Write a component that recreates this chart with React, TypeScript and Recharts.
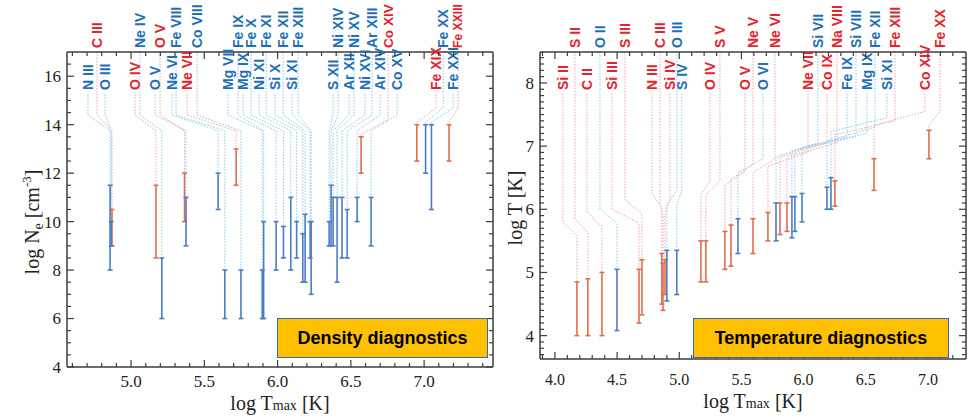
import type { ReactElement } from 'react';
import { ComposedChart, ErrorBar, Label, Line, Scatter, XAxis, YAxis } from 'recharts';

const SERIF = '"Liberation Serif", "Times New Roman", serif';
const SANS = '"Liberation Sans", Arial, sans-serif';
const FRAME = '#3d3d3d';
const ION_RED = '#e5232c';
const ION_BLUE = '#1f6fb6';
const BAR_RED = '#e26b4d';
const BAR_BLUE = '#4a7cc2';
const LEAD_RED = '#f3a1af';
const LEAD_BLUE = '#8cc8ee';

// ---- density diagnostics (left panel) ----
const DENS_ION = [
  'N III', 'C III', 'O III', 'O IV', 'Ne IV', 'O V', 'O V', 'Ne VI', 'Fe VIII', 'Ne VII',
  'Co VIII', 'Mg VII', 'Fe IX', 'Mg IX', 'Fe X', 'Ni XI', 'Fe XI', 'Si X', 'Fe XII', 'Si XI',
  'Fe XIII', 'S XII', 'Ni XIV', 'Ar XII', 'Ni XV', 'Ni XVI', 'Ar XIII', 'Ar XIV', 'Co XIV', 'Co XV',
  'Fe XIX', 'Fe XX', 'Fe XXI', 'Fe XXIII',
];
const DENS_RED = [0, 1, 0, 1, 0, 0, 1, 0, 0, 1, 0, 0, 0, 0, 0, 0, 0, 0, 0, 0, 0, 0, 0, 0, 0, 0, 0, 0, 1, 0, 1, 0, 0, 1];
const DENS_TMAX = [
  4.857, 4.87, 4.865, 5.17, 5.21, 5.375, 5.365, 5.594, 5.64, 5.717,
  5.75, 5.895, 5.905, 5.99, 6.04, 6.09, 6.13, 6.172, 6.188, 6.222,
  6.229, 6.352, 6.365, 6.379, 6.406, 6.44, 6.475, 6.543, 6.57, 6.638,
  6.95, 7.01, 7.05, 7.17,
];
const DENS_LOW = [
  8, 9, 9, 8.5, 6, 9, 10, 10.5, 6, 11.5,
  6, 6, 6, 8, 8.5, 8, 8.5, 7.5, 7.5, 8.5,
  7, 9, 9, 9, 7.5, 8.5, 8.5, 10, 12, 9,
  12.5, 12, 10.5, 12.5,
];
const DENS_HIGH = [
  11.5, 10.5, 10, 11.5, 8.5, 11, 12, 12, 8, 13,
  8, 8, 10, 10, 9.8, 11, 10, 9.5, 10.3, 10,
  10, 10, 11.5, 11, 11, 11, 10.5, 11, 13.5, 11,
  14, 14, 14, 14,
];
// label rows (1 = above the frame) and label anchors on the log T axis
const DENS_UPPER = [0, 1, 0, 0, 1, 0, 1, 0, 1, 0, 1, 0, 1, 0, 1, 0, 1, 0, 1, 0, 1, 0, 1, 0, 1, 0, 1, 0, 1, 0, 0, 1, 0, 1];
const DENS_LABEL_AT = [
  4.706, 4.768, 4.823, 5.027, 5.061, 5.164, 5.198, 5.28, 5.307, 5.382,
  5.451, 5.662, 5.73, 5.765, 5.819, 5.874, 5.922, 5.983, 6.038, 6.099,
  6.14, 6.379, 6.413, 6.488, 6.522, 6.597, 6.645, 6.7, 6.754, 6.816,
  7.082, 7.13, 7.198, 7.232,
];

// ---- temperature diagnostics (right panel) ----
const TEMP_ION = [
  'Si II', 'S II', 'C II', 'O II', 'Si III', 'S III', 'N III', 'C III', 'Si IV', 'O III',
  'S IV', 'O IV', 'S V', 'O V', 'Ne V', 'O VI', 'Ne VI', 'Ne VII', 'Si VII', 'Co IX',
  'Na VIII', 'Fe IX', 'Si VIII', 'Mg IX', 'Fe XII', 'Si XI', 'Fe XIII', 'Co XIV', 'Fe XX',
];
const TEMP_RED = [1, 1, 1, 0, 1, 1, 1, 1, 1, 0, 0, 1, 1, 1, 1, 0, 1, 1, 0, 1, 1, 0, 0, 0, 0, 0, 1, 1, 1];
const TEMP_TMAX = [
  4.177, 4.265, 4.378, 4.499, 4.676, 4.7, 4.86, 4.869, 4.885, 4.9,
  4.98, 5.174, 5.214, 5.367, 5.416, 5.472, 5.593, 5.713, 5.778, 5.81,
  5.866, 5.906, 5.93, 5.987, 6.188, 6.22, 6.252, 6.566, 7.008,
];
const TEMP_LOW = [
  4, 4, 4, 4.08, 4.2, 4.33, 4.5, 4.4, 4.65, 4.55,
  4.65, 4.85, 4.85, 5.05, 5.1, 5.3, 5.3, 5.5, 5.5, 5.6,
  5.65, 5.55, 5.65, 5.8, 6.0, 6.0, 6.05, 6.3, 6.8,
];
const TEMP_HIGH = [
  4.85, 4.9, 5.0, 5.05, 5.05, 5.2, 5.3, 5.15, 5.2, 5.35,
  5.35, 5.5, 5.5, 5.65, 5.75, 5.85, 5.85, 5.95, 6.1, 6.1,
  6.1, 6.2, 6.2, 6.25, 6.35, 6.5, 6.45, 6.8, 7.25,
];
const TEMP_UPPER = [0, 1, 0, 1, 0, 1, 0, 1, 0, 1, 0, 0, 1, 0, 1, 0, 1, 0, 1, 0, 1, 0, 1, 0, 1, 0, 1, 0, 1];
const TEMP_LABEL_AT = [
  4.064, 4.161, 4.257, 4.362, 4.458, 4.563, 4.78, 4.845, 4.925, 4.981,
  5.021, 5.247, 5.327, 5.528, 5.593, 5.673, 5.77, 6.035, 6.115, 6.188,
  6.268, 6.349, 6.421, 6.509, 6.574, 6.67, 6.735, 6.976, 7.097,
];

// ---- axes ----
const steps = (from: number, to: number, step: number) => {
  const out: number[] = [];
  for (let v = from; v <= to + 1e-9; v += step) out.push(Math.round(v * 100) / 100);
  return out;
};
const DENS_X_MAJOR = [5.0, 5.5, 6.0, 6.5, 7.0];
const DENS_Y_MAJOR = [4, 6, 8, 10, 12, 14, 16];
const TEMP_X_MAJOR = [4.0, 4.5, 5.0, 5.5, 6.0, 6.5, 7.0];
const TEMP_Y_MAJOR = [4, 5, 6, 7, 8];

const isIn = (v: number, list: number[]) => list.some((m) => Math.abs(m - v) < 1e-6);

// rough bold sans advance widths (em), used to keep the top labels inside the page
const EM: Record<string, number> = {
  A: 0.722, C: 0.722, F: 0.611, M: 0.833, N: 0.722, O: 0.778, S: 0.667, I: 0.278, V: 0.667, X: 0.667,
  a: 0.556, e: 0.556, g: 0.611, i: 0.278, o: 0.611, r: 0.389, ' ': 0.278,
};
const ION_FONT = 14;
const textEm = (s: string) => s.split('').reduce((w, c) => w + (EM[c] ?? 0.6), 0);

type Spec = {
  ion: string[];
  red: number[];
  tmax: number[];
  low: number[];
  high: number[];
  upper: number[];
  labelAt: number[];
  xDomain: [number, number];
  yDomain: [number, number];
  xTicks: number[];
  xMajor: number[];
  yTicks: number[];
  yMajor: number[];
  xTickDy: number;
  xTickFont: number;
  lowerStart: number;
  bend: (hi: number) => [number, number];
  left: number;
  width: number;
  margin: { top: number; right: number; bottom: number; left: number };
  xTitle: [number, number];
  yTitle: ReactElement;
};

function XTitle({ x, y }: { x: number; y: number }) {
  return (
    <text x={x} y={y} textAnchor="middle" fontFamily={SERIF} fontSize={20} fill="#222">
      log T<tspan fontSize={14}>max</tspan> [K]
    </text>
  );
}

function Panel({ spec }: { spec: Spec }) {
  const idx = spec.ion.map((_, i) => i);
  const yMax = spec.yDomain[1];
  const leaders = idx.map((i) => {
    const [b1, b2] = spec.bend(spec.high[i]);
    const start = spec.upper[i] ? yMax : spec.lowerStart;
    return [
      { x: spec.labelAt[i], y: start },
      { x: spec.labelAt[i], y: b1 },
      { x: spec.tmax[i], y: b2 },
      { x: spec.tmax[i], y: spec.high[i] },
    ];
  });
  const bars = (flag: number) =>
    idx
      .filter((i) => spec.red[i] === flag)
      .map((i) => ({ x: spec.tmax[i], y: (spec.low[i] + spec.high[i]) / 2, e: (spec.high[i] - spec.low[i]) / 2 }));
  // ion names sit on the top edge of the frame
  const ionPoints = idx.map((i) => ({ x: spec.labelAt[i], y: yMax, i }));
  const frame = { stroke: FRAME, strokeWidth: 1.5 };

  const ionShape = (p: any) => {
    const i = p.payload.i as number;
    const up = !!spec.upper[i];
    const yy = up ? p.cy - 4 : p.cy + 38;
    const room = yy - 4;
    const em = textEm(spec.ion[i]);
    const size = up && em * ION_FONT > room ? room / em : ION_FONT;
    return (
      <text
        x={p.cx}
        y={yy}
        dy="0.36em"
        transform={`rotate(-90 ${p.cx} ${yy})`}
        fill={spec.red[i] ? ION_RED : ION_BLUE}
        fontFamily={SANS}
        fontWeight="bold"
        fontSize={size}
      >
        {spec.ion[i]}
      </text>
    );
  };
  const bottomTick = (p: any) => {
    const v = p.payload.value;
    const big = isIn(v, spec.xMajor);
    return (
      <g>
        <line x1={p.x} x2={p.x} y1={p.y} y2={p.y - (big ? 7 : 4)} stroke={FRAME} strokeWidth={1.2} />
        {big && (
          <text x={p.x} y={p.y + spec.xTickDy} textAnchor="middle" fontFamily={SERIF} fontSize={spec.xTickFont} fill="#222">
            {v.toFixed(1)}
          </text>
        )}
      </g>
    );
  };
  const topTick = (p: any) => {
    const big = isIn(p.payload.value, spec.xMajor);
    return <line x1={p.x} x2={p.x} y1={p.y} y2={p.y + (big ? 7 : 4)} stroke={FRAME} strokeWidth={1.2} />;
  };
  const leftTick = (p: any) => {
    const v = p.payload.value;
    const big = isIn(v, spec.yMajor);
    return (
      <g>
        <line x1={p.x} x2={p.x + (big ? 7 : 4)} y1={p.y} y2={p.y} stroke={FRAME} strokeWidth={1.2} />
        {big && (
          <text x={p.x - 6} y={p.y} dy="0.35em" textAnchor="end" fontFamily={SERIF} fontSize={17} fill="#222">
            {v}
          </text>
        )}
      </g>
    );
  };
  const rightTick = (p: any) => {
    const big = isIn(p.payload.value, spec.yMajor);
    return <line x1={p.x} x2={p.x - (big ? 7 : 4)} y1={p.y} y2={p.y} stroke={FRAME} strokeWidth={1.2} />;
  };
  // axes need a non-zero size to be drawn, so each one gets 1px
  const commonX = { type: 'number' as const, domain: spec.xDomain, interval: 0 as const, tickSize: 0, tickMargin: 0, height: 1, ticks: spec.xTicks, dataKey: 'x', axisLine: frame, tickLine: false };
  const commonY = { type: 'number' as const, domain: spec.yDomain, interval: 0 as const, tickSize: 0, tickMargin: 0, width: 1, ticks: spec.yTicks, dataKey: 'y', axisLine: frame, tickLine: false };

  return (
    <div style={{ position: 'absolute', left: spec.left, top: 0 }}>
      <ComposedChart width={spec.width} height={419} margin={spec.margin}>
        <XAxis {...commonX} allowDataOverflow tick={bottomTick}>
          <Label content={() => <XTitle x={spec.xTitle[0]} y={spec.xTitle[1]} />} />
        </XAxis>
        <XAxis {...commonX} xAxisId="top" orientation="top" tick={topTick} />
        <YAxis {...commonY} allowDataOverflow tick={leftTick}>
          <Label content={() => spec.yTitle} />
        </YAxis>
        <YAxis {...commonY} yAxisId="right" orientation="right" tick={rightTick} />
        {leaders.map((pts, i) => (
          <Line
            key={`lead-${i}`}
            data={pts}
            dataKey="y"
            type="linear"
            stroke={spec.red[i] ? LEAD_RED : LEAD_BLUE}
            strokeWidth={1}
            strokeDasharray="1.5 1.5"
            dot={false}
            activeDot={false}
            legendType="none"
            isAnimationActive={false}
          />
        ))}
        <Scatter data={bars(1)} shape={() => <g />} isAnimationActive={false} legendType="none">
          <ErrorBar dataKey="e" direction="y" width={2.5} stroke={BAR_RED} strokeWidth={1.6} isAnimationActive={false} />
        </Scatter>
        <Scatter data={bars(0)} shape={() => <g />} isAnimationActive={false} legendType="none">
          <ErrorBar dataKey="e" direction="y" width={2.5} stroke={BAR_BLUE} strokeWidth={1.6} isAnimationActive={false} />
        </Scatter>
        <Scatter
          data={ionPoints}
          xAxisId="top"
          yAxisId="right"
          shape={ionShape}
          isAnimationActive={false}
          legendType="none"
        />
      </ComposedChart>
    </div>
  );
}

const densSpec: Spec = {
  ion: DENS_ION,
  red: DENS_RED,
  tmax: DENS_TMAX,
  low: DENS_LOW,
  high: DENS_HIGH,
  upper: DENS_UPPER,
  labelAt: DENS_LABEL_AT,
  xDomain: [4.563, 7.47],
  yDomain: [4, 17],
  xTicks: steps(4.6, 7.4, 0.1),
  xMajor: DENS_X_MAJOR,
  yTicks: steps(4, 16.5, 0.5),
  yMajor: DENS_Y_MAJOR,
  xTickDy: 20,
  xTickFont: 17,
  lowerStart: 15.25,
  bend: (hi) => (hi > 13.3 ? [hi + 0.7, hi + 0.1] : [14.4, 13.75]),
  left: 0,
  width: 500,
  margin: { top: 51, right: 6, bottom: 51, left: 66 },
  xTitle: [280, 410],
  yTitle: (
    <text x={32} y={222} dy="0.35em" transform="rotate(-90 32 222)" textAnchor="middle" fontFamily={SERIF} fontSize={20} fill="#222">
      log N<tspan fontSize={14} dy={4}>e</tspan>
      <tspan dy={-4}> [cm</tspan>
      <tspan fontSize={13} dy={-8}>-3</tspan>
      <tspan dy={8}>]</tspan>
    </text>
  ),
};

const tempSpec: Spec = {
  ion: TEMP_ION,
  red: TEMP_RED,
  tmax: TEMP_TMAX,
  low: TEMP_LOW,
  high: TEMP_HIGH,
  upper: TEMP_UPPER,
  labelAt: TEMP_LABEL_AT,
  xDomain: [3.88, 7.306],
  yDomain: [3.63, 8.49],
  xTicks: steps(3.9, 7.2, 0.1),
  xMajor: TEMP_X_MAJOR,
  yTicks: steps(3.7, 8.4, 0.1),
  yMajor: TEMP_Y_MAJOR,
  xTickDy: 26,
  xTickFont: 16,
  lowerStart: 7.83,
  bend: (hi) => {
    const b = Math.min(hi + 0.95, 7.55);
    return [b, b - 0.22];
  },
  left: 480,
  width: 491,
  margin: { top: 51, right: 4, bottom: 59, left: 59 },
  xTitle: [273, 408],
  yTitle: (
    <text x={35} y={208} dy="0.35em" transform="rotate(-90 35 208)" textAnchor="middle" fontFamily={SERIF} fontSize={20} fill="#222">
      log T [K]
    </text>
  ),
};

const boxStyle = {
  position: 'absolute' as const,
  top: 318,
  height: 40,
  boxSizing: 'border-box' as const,
  background: '#ffc000',
  border: '1px solid #3f66b5',
  display: 'flex',
  alignItems: 'center',
  justifyContent: 'center',
  fontFamily: SANS,
  fontWeight: 700,
  fontSize: 18,
  color: '#000',
};

export default function App() {
  return (
    <div style={{ position: 'absolute', left: 0, top: 0, width: 971, height: 419, background: '#fff', overflow: 'hidden' }}>
      <Panel spec={densSpec} />
      <Panel spec={tempSpec} />
      <div style={{ ...boxStyle, left: 277, width: 211 }}>Density diagnostics</div>
      <div style={{ ...boxStyle, left: 693, width: 256 }}>Temperature diagnostics</div>
    </div>
  );
}
